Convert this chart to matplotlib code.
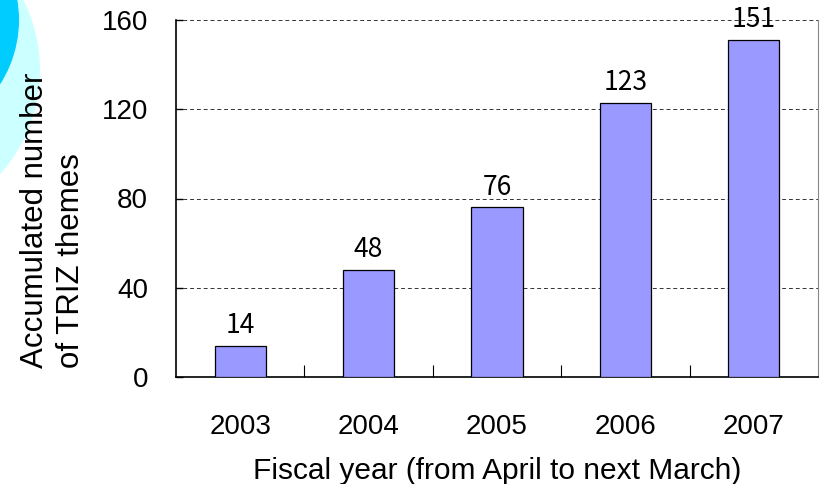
import matplotlib
matplotlib.use("Agg")
import matplotlib.pyplot as plt
from matplotlib.patches import Ellipse

years = ["2003", "2004", "2005", "2006", "2007"]
counts = [14, 48, 76, 123, 151]
yticks = [0, 40, 80, 120, 160]

W, H = 822, 484
fig = plt.figure(figsize=(W/100, H/100), dpi=100)

# decorative circles (top-left)
fig.patches.append(Ellipse((-116/W, 1-70/H), 312/W, 312/H, transform=fig.transFigure,
                           facecolor="#ccffff", edgecolor="none", zorder=0))
fig.patches.append(Ellipse((-100/W, 1-20/H), 238/W, 238/H, transform=fig.transFigure,
                           facecolor="#00ccff", edgecolor="none", zorder=0))

ax = fig.add_axes([176/W, 1-377/H, (818-176)/W, (377-20)/H])
ax.patch.set_alpha(0)
x = list(range(len(years)))
bars = ax.bar(x, counts, width=0.40, color="#9999ff", edgecolor="black", linewidth=0.9, zorder=3)
ax.set_xlim(-0.5, 4.5)
ax.set_ylim(0, 160)
ax.set_yticks(yticks)
ax.set_yticklabels([str(v) for v in yticks], fontsize=20, family="Liberation Sans")
ax.set_xticks(x)
ax.set_xticklabels(years, fontsize=20, family="Liberation Sans")
ax.tick_params(axis="x", length=0, pad=27)
ax.set_xticks([i + 0.5 for i in range(len(years) - 1)], minor=True)
ax.tick_params(axis="x", which="minor", direction="in", length=9, width=0.8)
ax.tick_params(axis="y", direction="in", length=5, width=1, pad=20)

for yv in yticks[1:]:
    ax.axhline(yv, color="#333333", linestyle=(0, (4, 3)), linewidth=0.7, zorder=1)
ax.spines["top"].set_visible(False)
ax.spines["right"].set_color("#888888")
ax.spines["right"].set_linewidth(0.8)
ax.spines["left"].set_linewidth(1.2)
ax.spines["bottom"].set_linewidth(1.2)

for xi, c in zip(x, counts):
    ax.text(xi, c + 3, str(c), ha="center", va="bottom", fontsize=19,
            family=["Noto Sans CJK JP", "DejaVu Sans"], zorder=4)

ax.set_xlabel("Fiscal year (from April to next March)", fontsize=21.5, family="Liberation Sans", labelpad=12)
fig.text(53/W, 1-220/H, "Accumulated number\nof TRIZ themes", fontsize=22.5, family="Liberation Sans",
         rotation=90, ha="center", va="center", multialignment="left", linespacing=1.25)

fig.savefig("out.png", dpi=100)
